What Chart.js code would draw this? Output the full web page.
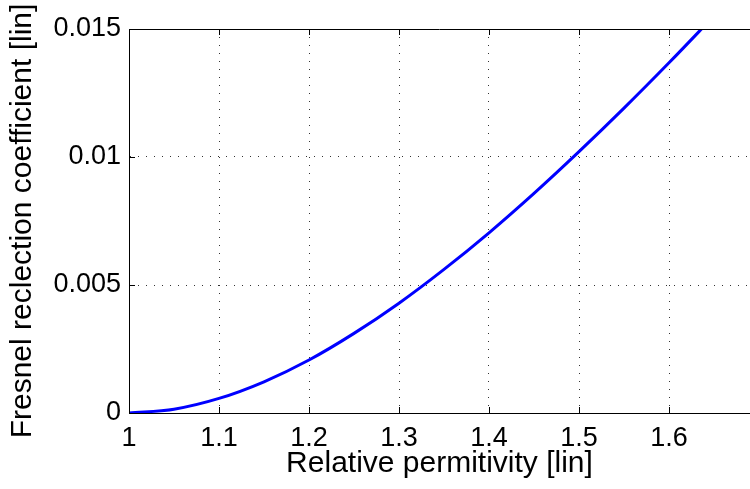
<!DOCTYPE html>
<html>
<head>
<meta charset="utf-8">
<script src="https://cdn.jsdelivr.net/npm/chart.js@4/dist/chart.umd.min.js"></script>
<style>
  html, body { margin: 0; padding: 0; background: #fff; }
  #wrap { width: 750px; height: 489px; }
</style>
</head>
<body>
<div id="wrap"><canvas id="myChart"></canvas></div>
<script>
// relative permittivity (x) and Fresnel reflection coefficient (y)
var permittivity = [1.00, 1.05, 1.10, 1.15, 1.20, 1.25, 1.30, 1.35, 1.40, 1.45, 1.50, 1.55, 1.60, 1.65];
var reflection   = [0, 0.00015, 0.00057, 0.00122, 0.00207, 0.00311, 0.00429, 0.00561, 0.00704, 0.00858, 0.01021, 0.01191, 0.01368, 0.01551];

var xTicks = [1, 1.1, 1.2, 1.3, 1.4, 1.5, 1.6];
var yTicks = [0, 0.005, 0.01, 0.015];
var xLabel = 'Relative permitivity [lin]';
var yLabel = 'Fresnel reclection coefficient [lin]';

var points = permittivity.map(function (x, i) { return { x: x, y: reflection[i] }; });

// top border + inward tick marks like the original figure
var boxPlugin = {
  id: 'box',
  afterDraw: function (chart) {
    var c = chart.ctx, a = chart.chartArea;
    var xs = chart.scales.x, ys = chart.scales.y;
    c.save();
    c.strokeStyle = '#000';
    c.lineWidth = 1;
    c.setLineDash([]);
    c.beginPath();
    c.moveTo(a.left, a.top + 0.5);
    c.lineTo(a.right, a.top + 0.5);
    xTicks.forEach(function (v) {
      var px = Math.round(xs.getPixelForValue(v)) + 0.5;
      c.moveTo(px, a.bottom); c.lineTo(px, a.bottom - 6);
      c.moveTo(px, a.top); c.lineTo(px, a.top + 6);
    });
    yTicks.forEach(function (v) {
      var py = Math.round(ys.getPixelForValue(v)) + 0.5;
      c.moveTo(a.left, py); c.lineTo(a.left + 6, py);
    });
    c.stroke();
    c.restore();
  }
};

document.addEventListener('DOMContentLoaded', function () {
  var ctx = document.getElementById('myChart').getContext('2d');
  var font = "'Liberation Sans', Arial, Helvetica, sans-serif";

  var myChart = new Chart(ctx, {
    type: 'line',
    data: {
      datasets: [{
        data: points,
        borderColor: '#0000ff',
        borderWidth: 3,
        pointRadius: 0,
        fill: false,
        cubicInterpolationMode: 'monotone',
        clip: 0
      }]
    },
    options: {
      responsive: true,
      maintainAspectRatio: false,
      animation: false,
      layout: { padding: { top: 29, right: 0, left: 0, bottom: 0 } },
      plugins: { legend: { display: false }, tooltip: { enabled: false } },
      scales: {
        x: {
          type: 'linear',
          min: 1,
          max: 1.69,
          afterFit: function (s) { s.height = 76; },
          afterBuildTicks: function (s) { s.ticks = xTicks.map(function (v) { return { value: v }; }); },
          grid: { color: 'rgba(0,0,0,0.8)', lineWidth: 1, drawTicks: false },
          border: { display: true, color: '#000', width: 1, dash: [1, 7] },
          ticks: {
            padding: 9,
            color: '#000',
            font: { family: font, size: 27 },
            maxRotation: 0,
            callback: function (v) { return String(Number(v.toFixed(2))); }
          },
          title: {
            display: true,
            text: xLabel,
            color: '#000',
            font: { family: font, size: 30 },
            padding: { top: 0, bottom: 7 }
          }
        },
        y: {
          type: 'linear',
          min: 0,
          max: 0.015,
          afterFit: function (s) { s.width = 129; },
          afterBuildTicks: function (s) { s.ticks = yTicks.map(function (v) { return { value: v }; }); },
          grid: { color: 'rgba(0,0,0,0.8)', lineWidth: 1, drawTicks: false },
          border: { display: true, color: '#000', width: 1, dash: [1, 7] },
          ticks: {
            padding: 8,
            color: '#000',
            font: { family: font, size: 27 },
            callback: function (v) { return String(Number(v.toFixed(4))); }
          },
          title: {
            display: true,
            text: yLabel,
            color: '#000',
            font: { family: font, size: 30 },
            padding: { top: 5, bottom: 0 }
          }
        }
      }
    },
    plugins: [boxPlugin]
  });
});
</script>
</body>
</html>
